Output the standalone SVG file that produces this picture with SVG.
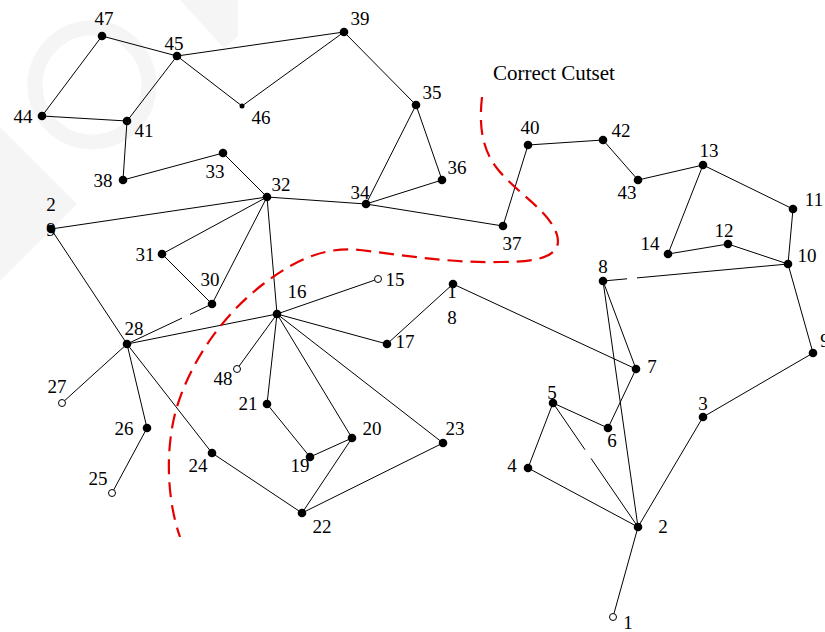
<svg xmlns="http://www.w3.org/2000/svg" width="825" height="632" viewBox="0 0 825 632">
  <style>
    .e { stroke: #000; stroke-width: 1; fill: none; }
    .n { fill: #000; }
    .o { fill: #fff; stroke: #000; stroke-width: 1; }
    .lbl { font-family: "Liberation Serif", "Times New Roman", serif; font-size: 19px; fill: #000; text-anchor: middle; }
    .title { font-family: "Liberation Serif", "Times New Roman", serif; font-size: 21px; fill: #000; }
    .cut { stroke: #e60000; stroke-width: 2.2; fill: none; stroke-dasharray: 15 8; }
    .wm { fill: #f5f5f5; }
  </style>

  <rect width="825" height="632" fill="#fff"/>

  <!-- faint background mark -->
  <g id="backdrop">
    <circle cx="92" cy="85" r="57" fill="none" stroke="#f5f5f5" stroke-width="15"/>
    <polygon class="wm" points="0,127 77,204 0,281"/>
    <polygon class="wm" points="180,0 238,0 238,36 224,48"/>
  </g>

  <!-- connectors -->
  <g id="edges">
    <line class="e" x1="102" y1="36" x2="177" y2="56"/>
    <line class="e" x1="102" y1="36" x2="42" y2="116"/>
    <line class="e" x1="42" y1="116" x2="127" y2="121"/>
    <line class="e" x1="177" y1="56" x2="127" y2="121"/>
    <line class="e" x1="127" y1="121" x2="123" y2="180"/>
    <line class="e" x1="123" y1="180" x2="223" y2="153"/>
    <line class="e" x1="223" y1="153" x2="267" y2="197"/>
    <line class="e" x1="177" y1="56" x2="344" y2="32"/>
    <line class="e" x1="177" y1="56" x2="242" y2="106"/>
    <line class="e" x1="242" y1="106" x2="344" y2="32"/>
    <line class="e" x1="344" y1="32" x2="416" y2="105"/>
    <line class="e" x1="416" y1="105" x2="366" y2="204"/>
    <line class="e" x1="416" y1="105" x2="442" y2="180"/>
    <line class="e" x1="442" y1="180" x2="366" y2="204"/>
    <line class="e" x1="267" y1="197" x2="366" y2="204"/>
    <line class="e" x1="366" y1="204" x2="503" y2="226"/>
    <line class="e" x1="503" y1="226" x2="528" y2="145"/>
    <line class="e" x1="528" y1="145" x2="603" y2="140"/>
    <line class="e" x1="603" y1="140" x2="638" y2="180"/>
    <line class="e" x1="638" y1="180" x2="703" y2="165"/>
    <line class="e" x1="703" y1="165" x2="668" y2="254"/>
    <line class="e" x1="668" y1="254" x2="728" y2="244"/>
    <line class="e" x1="728" y1="244" x2="788" y2="264"/>
    <line class="e" x1="703" y1="165" x2="793" y2="209"/>
    <line class="e" x1="793" y1="209" x2="788" y2="264"/>
    <line class="e" x1="788" y1="264" x2="637" y2="277.9"/>
    <line class="e" x1="627" y1="278.8" x2="603" y2="281"/>
    <line class="e" x1="788" y1="264" x2="813" y2="353"/>
    <line class="e" x1="813" y1="353" x2="703" y2="417"/>
    <line class="e" x1="703" y1="417" x2="638" y2="527"/>
    <line class="e" x1="638" y1="527" x2="613" y2="617"/>
    <line class="e" x1="638" y1="527" x2="528" y2="468"/>
    <line class="e" x1="528" y1="468" x2="553" y2="403"/>
    <line class="e" x1="553" y1="403" x2="608" y2="428"/>
    <line class="e" x1="553" y1="403" x2="585" y2="449.7"/>
    <line class="e" x1="591" y1="458.4" x2="638" y2="527"/>
    <line class="e" x1="603" y1="281" x2="638" y2="527"/>
    <line class="e" x1="603" y1="281" x2="636" y2="369"/>
    <line class="e" x1="636" y1="369" x2="608" y2="428"/>
    <line class="e" x1="453" y1="284" x2="636" y2="369"/>
    <line class="e" x1="453" y1="284" x2="387" y2="344"/>
    <line class="e" x1="277" y1="314" x2="387" y2="344"/>
    <line class="e" x1="277" y1="314" x2="378" y2="279"/>
    <line class="e" x1="277" y1="314" x2="127" y2="344"/>
    <line class="e" x1="277" y1="314" x2="237" y2="369"/>
    <line class="e" x1="277" y1="314" x2="267" y2="404"/>
    <line class="e" x1="277" y1="314" x2="352" y2="438"/>
    <line class="e" x1="277" y1="314" x2="443" y2="443"/>
    <line class="e" x1="267" y1="197" x2="277" y2="314"/>
    <line class="e" x1="267" y1="197" x2="51" y2="229"/>
    <line class="e" x1="267" y1="197" x2="162" y2="254"/>
    <line class="e" x1="267" y1="197" x2="212" y2="304"/>
    <line class="e" x1="162" y1="254" x2="212" y2="304"/>
    <line class="e" x1="212" y1="304" x2="190" y2="314.4"/>
    <line class="e" x1="182" y1="318.1" x2="127" y2="344"/>
    <line class="e" x1="51" y1="229" x2="127" y2="344"/>
    <line class="e" x1="127" y1="344" x2="62" y2="403"/>
    <line class="e" x1="127" y1="344" x2="147" y2="428"/>
    <line class="e" x1="147" y1="428" x2="112" y2="493"/>
    <line class="e" x1="127" y1="344" x2="212" y2="453"/>
    <line class="e" x1="212" y1="453" x2="302" y2="513"/>
    <line class="e" x1="302" y1="513" x2="352" y2="438"/>
    <line class="e" x1="302" y1="513" x2="443" y2="443"/>
    <line class="e" x1="267" y1="404" x2="310" y2="457"/>
    <line class="e" x1="310" y1="457" x2="352" y2="438"/>
  </g>

  <!-- cutset curve -->
  <g id="cutset">
    <path class="cut" d="M482,97 C479,125 481,150 500,172 C520,195 550,212 557,235 C563,256 540,262 500,262 C450,263 410,256 360,250 C322,246 292,262 262,285 C222,316 190,362 176,410 C165,450 167,500 180,537"/>
    <text class="title" x="493" y="80">Correct Cutset</text>
  </g>

  <!-- nodes -->
  <g id="n47"><circle class="n" cx="102" cy="36" r="4.3"/><text class="lbl" x="104" y="25">47</text></g>
  <g id="n45"><circle class="n" cx="177" cy="56" r="4.3"/><text class="lbl" x="174" y="50">45</text></g>
  <g id="n44"><circle class="n" cx="42" cy="116" r="4.3"/><text class="lbl" x="23" y="123">44</text></g>
  <g id="n41"><circle class="n" cx="127" cy="121" r="4.3"/><text class="lbl" x="144" y="137">41</text></g>
  <g id="n46"><circle class="n" cx="242" cy="106" r="2.5"/><text class="lbl" x="261" y="124">46</text></g>
  <g id="n38"><circle class="n" cx="123" cy="180" r="4.3"/><text class="lbl" x="103" y="187">38</text></g>
  <g id="n33"><circle class="n" cx="223" cy="153" r="4.3"/><text class="lbl" x="215" y="178">33</text></g>
  <g id="n32"><circle class="n" cx="267" cy="197" r="4.3"/><text class="lbl" x="281" y="191">32</text></g>
  <g id="n39"><circle class="n" cx="344" cy="32" r="4.3"/><text class="lbl" x="360" y="25">39</text></g>
  <g id="n35"><circle class="n" cx="416" cy="105" r="4.3"/><text class="lbl" x="432" y="99">35</text></g>
  <g id="n36"><circle class="n" cx="442" cy="180" r="4.3"/><text class="lbl" x="457" y="174">36</text></g>
  <g id="n34"><circle class="n" cx="366" cy="204" r="4.3"/><text class="lbl" x="360" y="199">34</text></g>
  <g id="n37"><circle class="n" cx="503" cy="226" r="4.3"/><text class="lbl" x="512" y="250">37</text></g>
  <g id="n40"><circle class="n" cx="528" cy="145" r="4.3"/><text class="lbl" x="530" y="134">40</text></g>
  <g id="n42"><circle class="n" cx="603" cy="140" r="4.3"/><text class="lbl" x="621" y="137">42</text></g>
  <g id="n43"><circle class="n" cx="638" cy="180" r="4.3"/><text class="lbl" x="627" y="199">43</text></g>
  <g id="n13"><circle class="n" cx="703" cy="165" r="4.3"/><text class="lbl" x="709" y="157">13</text></g>
  <g id="n11"><circle class="n" cx="793" cy="209" r="4.3"/><text class="lbl" x="814" y="206">11</text></g>
  <g id="n14"><circle class="n" cx="668" cy="254" r="4.3"/><text class="lbl" x="650" y="250">14</text></g>
  <g id="n12"><circle class="n" cx="728" cy="244" r="4.3"/><text class="lbl" x="724" y="237">12</text></g>
  <g id="n10"><circle class="n" cx="788" cy="264" r="4.3"/><text class="lbl" x="807" y="262">10</text></g>
  <g id="n8"><circle class="n" cx="603" cy="281" r="4.3"/><text class="lbl" x="603" y="273">8</text></g>
  <g id="n9"><circle class="n" cx="813" cy="353" r="4.3"/><text class="lbl" x="825" y="347">9</text></g>
  <g id="n29"><text class="lbl" x="51" y="211">2</text><text class="lbl" x="51" y="236">9</text><circle class="n" cx="51" cy="229" r="4.3"/></g>
  <g id="n31"><circle class="n" cx="162" cy="254" r="4.3"/><text class="lbl" x="145" y="261">31</text></g>
  <g id="n30"><circle class="n" cx="212" cy="304" r="4.3"/><text class="lbl" x="210" y="286">30</text></g>
  <g id="n28"><circle class="n" cx="127" cy="344" r="4.3"/><text class="lbl" x="134" y="335">28</text></g>
  <g id="n27"><circle class="o" cx="62" cy="403" r="3.5"/><text class="lbl" x="57" y="393">27</text></g>
  <g id="n16"><circle class="n" cx="277" cy="314" r="4.3"/><text class="lbl" x="297" y="298">16</text></g>
  <g id="n15"><circle class="o" cx="378" cy="279" r="3.5"/><text class="lbl" x="395" y="286">15</text></g>
  <g id="n18"><text class="lbl" x="452" y="298">1</text><circle class="n" cx="453" cy="284" r="4.3"/><text class="lbl" x="452" y="324">8</text></g>
  <g id="n17"><circle class="n" cx="387" cy="344" r="4.3"/><text class="lbl" x="405" y="348">17</text></g>
  <g id="n48"><circle class="o" cx="237" cy="369" r="3.5"/><text class="lbl" x="223" y="385">48</text></g>
  <g id="n21"><circle class="n" cx="267" cy="404" r="4.3"/><text class="lbl" x="248" y="410">21</text></g>
  <g id="n20"><circle class="n" cx="352" cy="438" r="4.3"/><text class="lbl" x="372" y="435">20</text></g>
  <g id="n23"><circle class="n" cx="443" cy="443" r="4.3"/><text class="lbl" x="455" y="435">23</text></g>
  <g id="n24"><circle class="n" cx="212" cy="453" r="4.3"/><text class="lbl" x="198" y="472">24</text></g>
  <g id="n19"><circle class="n" cx="310" cy="457" r="4.3"/><text class="lbl" x="300" y="472">19</text></g>
  <g id="n22"><circle class="n" cx="302" cy="513" r="4.3"/><text class="lbl" x="322" y="533">22</text></g>
  <g id="n26"><circle class="n" cx="147" cy="428" r="4.3"/><text class="lbl" x="124" y="435">26</text></g>
  <g id="n25"><circle class="o" cx="112" cy="493" r="3.5"/><text class="lbl" x="98" y="485">25</text></g>
  <g id="n7"><circle class="n" cx="636" cy="369" r="4.3"/><text class="lbl" x="652" y="373">7</text></g>
  <g id="n5"><circle class="n" cx="553" cy="403" r="4.3"/><text class="lbl" x="552" y="399">5</text></g>
  <g id="n6"><circle class="n" cx="608" cy="428" r="4.3"/><text class="lbl" x="612" y="447">6</text></g>
  <g id="n3"><circle class="n" cx="703" cy="417" r="4.3"/><text class="lbl" x="703" y="410">3</text></g>
  <g id="n4"><circle class="n" cx="528" cy="468" r="4.3"/><text class="lbl" x="512" y="472">4</text></g>
  <g id="n2"><circle class="n" cx="638" cy="527" r="4.3"/><text class="lbl" x="663" y="533">2</text></g>
  <g id="n1"><circle class="o" cx="613" cy="617" r="3.5"/><text class="lbl" x="628" y="629">1</text></g>
</svg>
